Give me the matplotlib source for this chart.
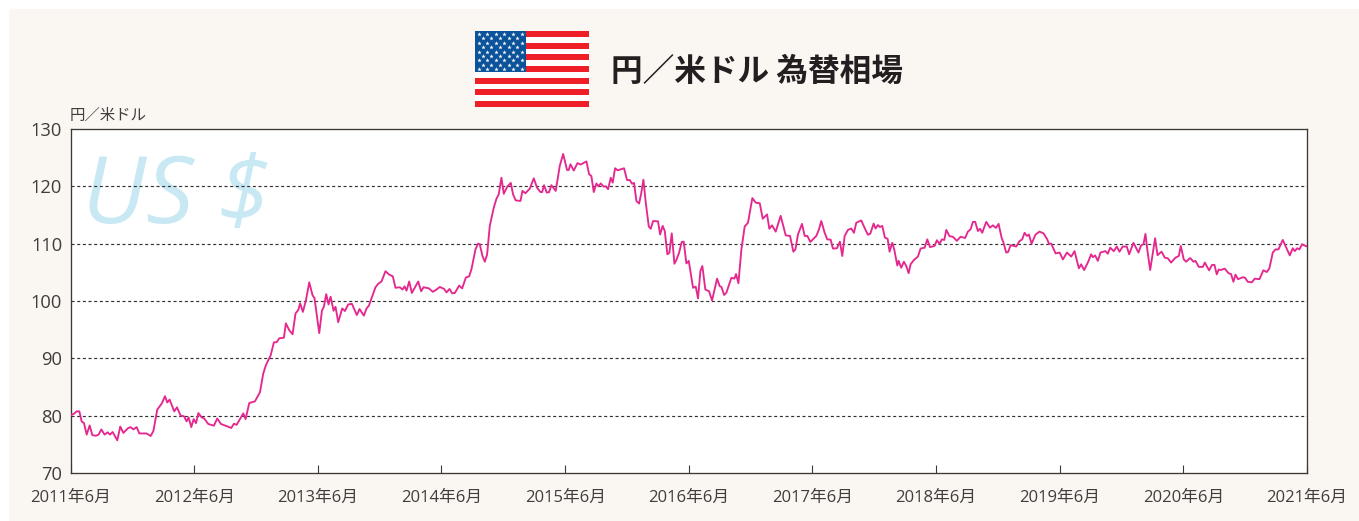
import numpy as np
import matplotlib
matplotlib.use("Agg")
import matplotlib.pyplot as plt
from matplotlib.patches import FancyBboxPatch, Rectangle

# months since 2011-06 and yen per dollar
months = [
    0.05, 0.34, 0.60, 0.86, 1.08, 1.31, 1.57, 1.86, 2.12, 2.47, 2.73, 2.99, 3.31, 3.61, 3.83, 4.09, 4.54, 4.83, 5.13, 5.61,
    5.84, 6.10, 6.42, 6.68, 7.39, 7.78, 8.04, 8.42, 8.85, 9.17, 9.39, 9.62, 10.07, 10.33, 10.69, 11.01, 11.27, 11.46, 11.72, 11.95,
    12.18, 12.41, 12.73, 12.98, 13.37, 13.92, 14.24, 14.60, 15.05, 15.60, 15.86, 16.12, 16.44, 16.77, 16.99, 17.35, 17.90, 18.39,
    18.70, 18.96, 19.42, 19.74, 20.00, 20.26, 20.71, 20.90, 21.23, 21.55, 21.84, 22.10, 22.29, 22.55, 22.84, 23.17, 23.49, 23.68, 24.14, 24.40,
    24.59, 24.82, 25.04, 25.24, 25.53, 25.72, 25.98, 26.37, 26.63, 26.95, 27.31, 27.79, 28.05, 28.47, 28.73, 28.96, 29.60, 29.86, 30.18, 30.57,
    30.93, 31.28, 31.54, 31.96, 32.22, 32.42, 32.61, 32.87, 33.13, 33.74, 34.03, 34.26, 34.78, 35.17, 35.52, 35.84, 36.26, 36.49, 36.78, 37.04,
    37.30, 37.72, 38.01, 38.37, 38.69, 38.92, 39.30, 39.55,
    39.72, 39.98, 40.21, 40.43, 40.69, 41.08, 41.34, 41.56, 41.82, 42.05, 42.37, 42.73, 42.95, 43.21, 43.67, 43.86, 44.15, 44.57, 44.96, 45.28,
    45.61, 45.77, 45.96, 46.22, 46.45, 46.67, 47.09, 47.48, 47.81, 48.19, 48.35, 48.52, 48.84, 49.20, 49.52, 50.07, 50.33, 50.55, 50.78, 51.04,
    51.23, 51.46, 51.75, 51.94, 52.17, 52.43, 52.62, 52.85, 53.11, 53.72, 54.01, 54.27, 54.50, 54.69, 54.92, 55.18, 55.37, 55.60, 55.83, 56.12,
    56.31, 56.54, 57.02, 57.22, 57.47, 57.67, 57.93, 58.12, 58.35, 58.61, 58.80, 59.06, 59.32, 59.51, 59.77, 60.00, 60.42, 60.68, 60.90, 61.13,
    61.32, 61.61, 61.97, 62.26, 62.75, 63.00, 63.17, 63.43, 63.65, 64.14, 64.43, 64.59, 64.82, 65.11, 65.43, 65.75, 66.17, 66.50, 66.89, 67.18,
    67.60, 67.82, 68.08, 68.44, 68.92, 69.41, 69.83, 70.15, 70.35, 70.60, 70.99, 71.25, 71.51, 71.80,
    72.38, 72.64, 72.86, 73.19, 73.44, 73.77, 73.99, 74.38, 74.67, 74.90, 75.13, 75.45, 75.77, 76.03, 76.26, 76.74, 77.13, 77.39, 77.62, 77.94,
    78.13, 78.36, 78.55, 78.78, 79.04, 79.30, 79.49, 79.75, 79.94, 80.24, 80.37, 80.62, 80.88, 81.11, 81.34, 81.53, 81.85, 82.24, 82.50, 82.89,
    83.15, 83.41, 83.86, 84.08, 84.34, 84.57, 84.80, 84.99, 85.31, 85.64, 86.02, 86.38, 86.83, 87.09, 87.35, 87.58, 87.80, 88.06, 88.26, 88.48,
    88.87, 89.23, 89.52, 89.81, 90.07, 90.36, 90.55, 90.81, 91.00, 91.23, 91.78, 92.10, 92.36, 92.59, 92.82, 93.01, 93.27, 93.66, 94.04, 94.43,
    94.79, 94.95, 95.18, 95.60, 95.99, 96.31, 96.70, 97.12, 97.44, 97.86,
    98.08, 98.37, 98.73, 99.05, 99.21, 99.44, 99.70, 99.96, 100.44, 100.67, 100.90, 101.25, 101.54, 101.80, 102.12, 102.51, 102.74, 103.16, 103.64, 103.90,
    104.13, 104.32, 104.52, 104.78, 105.04, 105.26, 105.49, 105.88, 106.20, 106.49, 106.81, 107.23, 107.56, 107.75, 108.04, 108.27, 108.66, 108.98, 109.17, 109.50,
    109.89, 110.08, 110.50, 110.79, 111.02, 111.24, 111.44, 111.63, 112.02, 112.38, 112.63, 112.86, 113.06, 113.31, 113.77, 113.99, 114.25, 114.64, 114.93, 115.38,
    115.77, 116.10, 116.35, 116.68, 116.94, 117.23, 117.65, 117.97, 118.33, 118.62, 118.81, 119.04, 119.26, 119.52, 119.91, 120.0,
]
rates = [
    80.1, 80.35, 80.75, 80.75, 79.0, 78.7, 76.7, 78.3, 76.6, 76.5, 76.7, 77.6, 76.7, 77.1, 76.7, 77.15, 75.7, 78.1, 77.0, 77.85,
    78.0, 77.6, 78.0, 76.9, 76.9, 76.45, 77.3, 81.05, 82.1, 83.4, 82.3, 82.8, 80.75, 81.45, 80.0, 79.9, 79.0, 79.7, 78.0, 79.4,
    78.7, 80.45, 79.7, 79.5, 78.55, 78.25, 79.5, 78.55, 78.25, 77.85, 78.6, 78.4, 79.4, 80.4, 79.4, 82.2, 82.5, 84.1,
    87.3, 88.8, 90.5, 92.8, 92.8, 93.5, 93.6, 96.1, 94.9, 94.2, 97.85, 98.4, 99.6, 98.1, 100.05, 103.25, 101.0, 100.5, 94.4, 98.3,
    99.0, 101.2, 99.4, 100.75, 98.3, 99.0, 96.3, 98.7, 98.25, 99.4, 99.5, 97.55, 98.6, 97.45, 98.7, 99.2, 102.4, 103.0, 103.4, 105.2,
    104.6, 104.3, 102.3, 102.4, 102.0, 102.55, 101.8, 103.4, 101.4, 103.4, 101.7, 102.4, 102.2, 101.6, 102.0, 102.45, 102.1, 101.5, 102.1, 101.35,
    101.4, 102.7, 102.2, 104.1, 104.3, 105.6, 109.0, 110.0,
    109.9, 107.85, 106.85, 108.1, 113.1, 116.3, 117.85, 118.6, 121.5, 118.7, 119.9, 120.6, 118.6, 117.55, 117.45, 119.2, 118.8, 119.6, 121.4, 119.75,
    119.0, 119.0, 120.2, 118.9, 119.0, 120.2, 119.2, 123.55, 125.65, 122.85, 122.85, 123.85, 122.75, 124.05, 123.8, 124.35, 122.1, 121.8, 119.0, 120.5,
    120.0, 120.5, 119.95, 120.0, 119.5, 121.5, 120.65, 123.15, 122.8, 123.15, 121.1, 121.1, 120.45, 120.6, 117.45, 117.0, 118.6, 121.15, 117.15, 113.0,
    112.6, 113.95, 113.9, 111.6, 113.1, 112.2, 108.15, 108.4, 111.8, 106.5, 107.15, 108.4, 110.3, 110.35, 106.55, 107.0, 102.3, 102.5, 100.45, 105.25,
    106.1, 102.0, 101.7, 100.1, 103.9, 102.6, 102.45, 101.05, 101.45, 104.05, 103.9, 104.7, 103.1, 109.0, 113.0, 113.65, 117.95, 117.15, 117.05, 114.35,
    115.1, 112.6, 113.2, 112.1, 114.85, 111.45, 111.35, 108.6, 109.0, 111.6, 113.45, 111.35, 111.35, 110.3,
    111.35, 112.5, 113.95, 111.9, 110.75, 110.7, 109.15, 109.2, 110.35, 107.85, 111.35, 112.4, 112.65, 111.9, 113.65, 114.05, 112.5, 111.55, 111.75, 113.5,
    112.65, 113.25, 112.9, 113.1, 111.05, 110.85, 108.6, 110.15, 109.0, 106.2, 107.0, 105.8, 106.85, 106.1, 104.85, 106.4, 107.15, 107.75, 109.15, 109.3,
    110.75, 109.4, 109.6, 110.6, 110.0, 110.75, 110.65, 112.4, 111.3, 111.2, 110.5, 111.2, 111.0, 112.1, 112.5, 113.8, 113.8, 112.2, 112.6, 111.9,
    113.8, 112.8, 113.2, 112.75, 113.45, 111.05, 110.15, 108.45, 108.55, 109.75, 109.5, 110.45, 110.75, 111.9, 111.35, 111.6, 110.0, 111.6, 112.1, 111.8,
    110.75, 110.0, 110.0, 108.3, 108.45, 107.25, 108.45, 107.75, 108.7, 105.7,
    106.4, 105.4, 106.7, 108.15, 107.65, 107.95, 107.0, 108.45, 108.7, 108.25, 109.3, 108.7, 109.5, 108.6, 109.5, 109.5, 108.15, 110.15, 108.45, 109.7,
    109.9, 111.7, 108.7, 105.4, 108.45, 110.95, 108.0, 108.6, 107.55, 107.45, 106.7, 107.55, 107.85, 109.6, 107.25, 106.85, 107.5, 106.85, 107.0, 105.95,
    105.95, 106.7, 105.35, 106.3, 106.3, 104.65, 105.5, 105.4, 105.65, 104.85, 104.7, 103.35, 104.6, 103.8, 104.15, 104.05, 103.35, 103.25, 103.9, 103.8,
    105.35, 105.05, 105.7, 108.45, 109.0, 109.0, 110.65, 109.4, 107.95, 109.2, 108.7, 109.2, 109.0, 109.9, 109.55, 109.55,
]
xLabels = ["2011年6月", "2012年6月", "2013年6月", "2014年6月", "2015年6月", "2016年6月",
           "2017年6月", "2018年6月", "2019年6月", "2020年6月", "2021年6月"]
yTicks = [70, 80, 90, 100, 110, 120, 130]
gridValues = [80, 90, 100, 110, 120]

W, H = 1359, 521
cjkFamily = ["Noto Sans CJK JP", "DejaVu Sans"]
labelFamily = ["Open Sans", "Noto Sans CJK JP", "DejaVu Sans"]
textColor = "#413d3a"

plt.rcParams["font.family"] = labelFamily
fig = plt.figure(figsize=(W / 100, H / 100), dpi=100, facecolor="white")

# pale card behind everything, runs off the right and bottom edges
bg = fig.add_axes([0, 0, 1, 1])
bg.set_xlim(0, W)
bg.set_ylim(H, 0)
bg.axis("off")
bg.add_patch(FancyBboxPatch((9, 9), 1400, 560, boxstyle="round,pad=0,rounding_size=5",
                            mutation_aspect=1, facecolor="#faf7f3", edgecolor="none"))

# flag
bg.add_patch(Rectangle((475, 31), 114, 76, facecolor="white", edgecolor="none"))
for i in range(0, 13, 2):
    bg.add_patch(Rectangle((475, 31 + i * 76 / 13), 114, 76 / 13, facecolor="#ee1f27", edgecolor="none"))
bg.add_patch(Rectangle((475, 31), 51, 41, facecolor="#0a5299", edgecolor="none"))
starX = []
starY = []
for row in range(9):
    for col in range(6 if row % 2 == 0 else 5):
        starX.append(478.5 + (col + (0 if row % 2 == 0 else 0.5)) * 8.6)
        starY.append(34 + row * 4.4)
bg.scatter(starX, starY, marker="*", s=11, color="white", linewidths=0)

bg.text(611, 71.5, "円／米ドル 為替相場", family=cjkFamily, fontsize=22.8, fontweight="bold",
        color="#231f20", ha="left", va="center")
bg.text(70, 115.5, "円／米ドル", family=cjkFamily, fontsize=11.1, color=textColor, ha="left", va="center")

ax = fig.add_axes([70.5 / W, (H - 473) / H, 1236.5 / W, 344 / H])
ax.set_xlim(0, 120)
ax.set_ylim(70, 130)
ax.set_facecolor("white")

# watermark
ax.text(0.0095, 0.797, "US $", transform=ax.transAxes, family=["Liberation Sans Narrow", "Open Sans"], style="italic",
        fontsize=68, color="#c8e9f4", ha="left", va="center", zorder=1)

for v in gridValues:
    ax.axhline(v, color="#333333", linewidth=0.85, linestyle=(0, (2.6, 2.2)), zorder=2)

ax.plot(months, rates, color="#e4288f", linewidth=1.35, zorder=3)

for side in ax.spines:
    ax.spines[side].set_color("#3c3836")
    ax.spines[side].set_linewidth(0.95)

ax.set_xticks(np.arange(0, 121, 12))
ax.set_xticklabels(xLabels, fontsize=12, color=textColor)
ax.set_yticks(yTicks)
ax.set_yticklabels([str(v) for v in yTicks], fontsize=13.2, color=textColor)
ax.tick_params(axis="x", direction="in", length=6, width=0.8, color="#3c3836", pad=12)
ax.tick_params(axis="y", length=0, pad=6)

fig.savefig("out.png", dpi=100)
